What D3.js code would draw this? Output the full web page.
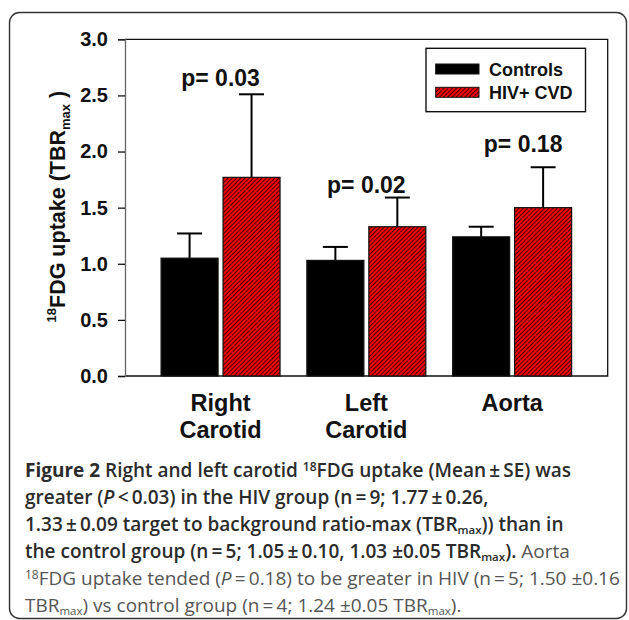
<!DOCTYPE html>
<html>
<head>
<meta charset="utf-8">
<script src="https://cdn.jsdelivr.net/npm/d3@7"></script>
<style>
  body { margin: 0; background: #fff; }
  svg { display: block; }
</style>
</head>
<body>
<div id="chart"></div>
<script>
// values
const categories = ["Right Carotid", "Left Carotid", "Aorta"]
const categoryLines = [["Right", "Carotid"], ["Left", "Carotid"], ["Aorta"]]
const seriesNames = ["Controls", "HIV+ CVD"]
const controls = [1.05, 1.03, 1.24]
const controlsErr = [0.22, 0.12, 0.09]
const hiv = [1.77, 1.33, 1.50]
const hivErr = [0.74, 0.26, 0.36]
const pLabels = ["p= 0.03", "p= 0.02", "p= 0.18"]
const pLevels = [2.58, 1.63, 2.0]
const yTicks = [0, 0.5, 1.0, 1.5, 2.0, 2.5, 3.0]

const width = 629
const height = 620
const plot = { left: 125, right: 607.7, top: 39.3, bottom: 376 }

const rows = []
categories.forEach((c, i) => {
    rows.push({ cat: c, series: seriesNames[0], value: controls[i], err: controlsErr[i] })
    rows.push({ cat: c, series: seriesNames[1], value: hiv[i], err: hivErr[i] })
})

const svg = d3.select("#chart")
    .append("svg")
        .attr("width", width)
        .attr("height", height)

const defs = svg.append("defs")
const hatch = defs.append("pattern")
    .attr("id", "hatch")
    .attr("patternUnits", "userSpaceOnUse")
    .attr("width", 3)
    .attr("height", 3)
    .attr("patternTransform", "rotate(45)")
hatch.append("rect")
    .attr("width", 3).attr("height", 3)
    .attr("fill", "#ff0000")
hatch.append("line")
    .attr("x1", 0).attr("y1", 0).attr("x2", 0).attr("y2", 3)
    .attr("stroke", "#000")
    .attr("stroke-width", 1.5)

// outer frame of the figure
svg.append("rect")
    .attr("x", 9.5).attr("y", 12.5)
    .attr("width", 617).attr("height", 606)
    .attr("rx", 10)
    .attr("fill", "none")
    .attr("stroke", "#333")
    .attr("stroke-width", 1.4)

const xScale = d3.scaleBand()
    .domain(categories)
    .range([plot.left, plot.right])
    .paddingInner(0.184)
    .paddingOuter(0.2475)

const xInner = d3.scaleBand()
    .domain(seriesNames)
    .range([0, xScale.bandwidth()])
    .paddingInner(0.08)

const yScale = d3.scaleLinear()
    .domain([0, 3])
    .range([plot.bottom, plot.top])

const colour = d3.scaleOrdinal()
    .domain(seriesNames)
    .range(["#000", "url(#hatch)"])

// frame: top, right, bottom in black
svg.append("path")
    .attr("d", `M${plot.left},${plot.top}H${plot.right}V${plot.bottom}H${plot.left}`)
    .attr("fill", "none")
    .attr("stroke", "#111")
    .attr("stroke-width", 1.3)

const yAxis = svg.append("g")
    .attr("transform", `translate(${plot.left},0)`)
    .call(d3.axisLeft(yScale).tickValues(yTicks).tickFormat(d3.format(".1f")).tickSize(7).tickPadding(10))
yAxis.select(".domain").attr("stroke", "#666").attr("stroke-width", 1.3)
yAxis.selectAll(".tick line").attr("stroke", "#111").attr("stroke-width", 1.3)
yAxis.selectAll(".tick text")
    .attr("fill", "#111")
    .style("font-family", "'Liberation Sans', Arial, sans-serif")
    .style("font-weight", "bold")
    .style("font-size", "20px")

// bars
const groups = svg.append("g")
    .selectAll("g")
    .data(rows)
    .join("g")
        .attr("transform", d => `translate(${xScale(d.cat) + xInner(d.series)},0)`)

groups.append("line")
    .attr("x1", xInner.bandwidth() / 2)
    .attr("x2", xInner.bandwidth() / 2)
    .attr("y1", d => yScale(d.value))
    .attr("y2", d => yScale(d.value + d.err))
    .attr("stroke", "#000")
    .attr("stroke-width", 2)

groups.append("line")
    .attr("x1", xInner.bandwidth() / 2 - 12.5)
    .attr("x2", xInner.bandwidth() / 2 + 12.5)
    .attr("y1", d => yScale(d.value + d.err))
    .attr("y2", d => yScale(d.value + d.err))
    .attr("stroke", "#000")
    .attr("stroke-width", 2)

groups.append("rect")
    .attr("x", 0)
    .attr("width", xInner.bandwidth())
    .attr("y", d => yScale(d.value))
    .attr("height", d => yScale(0) - yScale(d.value))
    .attr("fill", d => colour(d.series))
    .attr("stroke", "#111")
    .attr("stroke-width", 1.2)

// p values
const pShift = [0, 0, 11]
svg.append("g")
    .selectAll("text")
    .data(pLabels)
    .join("text")
        .attr("x", (d, i) => xScale(categories[i]) + xScale.bandwidth() / 2 + pShift[i])
        .attr("y", (d, i) => yScale(pLevels[i]))
        .attr("text-anchor", "middle")
        .attr("fill", "#111")
        .style("font-family", "'Liberation Sans', Arial, sans-serif")
        .style("font-weight", "bold")
        .style("font-size", "23px")
        .text(d => d)

// category labels
const catText = svg.append("g")
    .selectAll("text")
    .data(categoryLines)
    .join("text")
        .attr("x", (d, i) => xScale(categories[i]) + xScale.bandwidth() / 2)
        .attr("y", 411)
        .attr("text-anchor", "middle")
        .attr("fill", "#111")
        .style("font-family", "'Liberation Sans', Arial, sans-serif")
        .style("font-weight", "bold")
        .style("font-size", "23.5px")
catText.selectAll("tspan")
    .data((d, i) => d.map(t => ({ t, x: xScale(categories[i]) + xScale.bandwidth() / 2 })))
    .join("tspan")
        .attr("x", d => d.x)
        .attr("dy", (d, j) => j === 0 ? 0 : 26.5)
        .text(d => d.t)

// y title
const yTitle = svg.append("text")
    .attr("transform", `translate(65,${(plot.top + plot.bottom) / 2 - 1}) rotate(-90)`)
    .attr("text-anchor", "middle")
    .attr("fill", "#111")
    .style("font-family", "'Liberation Sans', Arial, sans-serif")
    .style("font-weight", "bold")
    .style("font-size", "21.5px")
yTitle.append("tspan").attr("font-size", "13px").attr("dy", -9).text("18")
yTitle.append("tspan").attr("dy", 9).text("FDG uptake (TBR")
yTitle.append("tspan").attr("font-size", "13px").attr("dy", 5).text("max")
yTitle.append("tspan").attr("dy", -5).text(" )")

// legend
const legend = svg.append("g")
legend.append("rect")
    .attr("x", 426).attr("y", 48.3)
    .attr("width", 159.5).attr("height", 63.4)
    .attr("fill", "#fff")
    .attr("stroke", "#111")
    .attr("stroke-width", 1.4)
const legendItems = legend.selectAll("g")
    .data(seriesNames)
    .join("g")
        .attr("transform", (d, i) => `translate(435.7,${64 + i * 23.3})`)
legendItems.append("rect")
    .attr("width", 43.3).attr("height", 10)
    .attr("fill", d => colour(d))
    .attr("stroke", "#111")
    .attr("stroke-width", 1)
legendItems.append("text")
    .attr("x", 53.3).attr("y", 11.6)
    .attr("fill", "#111")
    .style("font-family", "'Liberation Sans', Arial, sans-serif")
    .style("font-weight", "bold")
    .style("font-size", "18px")
    .text(d => d)

// caption
const captionLines = [
    [["Figure 2 ", 700], ["Right and left carotid ", 600], ["18", 600, "sup"], ["FDG uptake (Mean\u2009±\u2009SE) was", 600]],
    [["greater (", 600], ["P", 600, "it"], ["\u2009<\u20090.03) in the HIV group (n\u2009=\u20099; 1.77\u2009±\u20090.26,", 600]],
    [["1.33\u2009±\u20090.09 target to background ratio-max (TBR", 600], ["max", 600, "sub"], [")) than in", 600]],
    [["the control group (n\u2009=\u20095; 1.05\u2009±\u20090.10, 1.03 ±0.05 TBR", 600], ["max", 600, "sub"], [").", 600], [" Aorta", 400]],
    [["18", 400, "sup"], ["FDG uptake tended (", 400], ["P", 400, "it"], ["\u2009=\u20090.18) to be greater in HIV (n\u2009=\u20095; 1.50 ±0.16", 400]],
    [["TBR", 400], ["max", 400, "sub"], [") vs control group (n\u2009=\u20094; 1.24 ±0.05 TBR", 400], ["max", 400, "sub"], [").", 400]]
]
const caption = svg.append("g")
    .style("font-family", "'Open Sans', 'Noto Sans', sans-serif")
    .style("font-size", "19px")
captionLines.forEach((line, li) => {
    const t = caption.append("text")
        .attr("x", 25)
        .attr("y", 477 + li * 27)
    line.forEach(([s, w, kind]) => {
        const sp = t.append("tspan")
            .text(s)
            .attr("font-weight", w)
            .attr("fill", w >= 600 ? "#2b2b2b" : "#555")
        if (kind === "sup") sp.attr("font-size", "12px").attr("baseline-shift", "6")
        if (kind === "sub") sp.attr("font-size", "11.5px").attr("baseline-shift", "-3")
        if (kind === "it") sp.attr("font-style", "italic")
    })
})
</script>
</body>
</html>
